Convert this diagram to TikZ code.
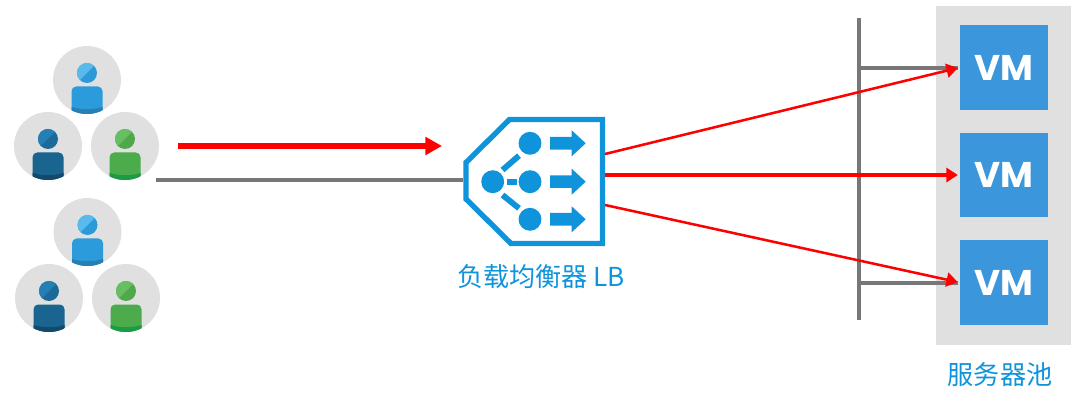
\documentclass[tikz,border=0pt]{standalone}
\usepackage{fontspec}
\usetikzlibrary{arrows.meta}
\newfontfamily\cjk{Noto Sans CJK SC}
\newfontfamily\vmfont{Poppins}
\definecolor{lbblue}{HTML}{0F94DC}
\definecolor{vmblue}{HTML}{3B96DB}
\definecolor{poolgray}{HTML}{E0E0E0}
\definecolor{linegray}{HTML}{777777}
\definecolor{bhl}{HTML}{5ABAEC}\definecolor{bhd}{HTML}{2A9AD9}\definecolor{bbo}{HTML}{2B9BDB}\definecolor{bba}{HTML}{2680B4}
\definecolor{dhl}{HTML}{2480B4}\definecolor{dhd}{HTML}{1B6A98}\definecolor{dbo}{HTML}{19658F}\definecolor{dba}{HTML}{134A6B}
\definecolor{ghl}{HTML}{68BF63}\definecolor{ghd}{HTML}{50A84D}\definecolor{gbo}{HTML}{4CAB4A}\definecolor{gba}{HTML}{1C9B47}
\tikzset{
  x=0.75pt,y=-0.75pt,
  graybar/.style={draw=linegray,line width=3pt},
  redthin/.style={draw=red,line width=1.9pt,-{Triangle[length=8.5pt,width=10.5pt]},shorten >=1.5pt},
  redmid/.style={redthin,line width=2.4pt},
  redthick/.style={draw=red,line width=3.8pt,-{Triangle[length=12.5pt,width=13pt]}},
  poolbox/.style={fill=poolgray,minimum width=101.2pt,minimum height=254.3pt,inner sep=0pt},
  vmbox/.style={fill=vmblue,minimum width=65.8pt,minimum height=63.6pt,inner sep=0pt,text=white,font=\fontsize{26.8}{27}\selectfont\bfseries\vmfont},
  labeltext/.style={text=lbblue,font=\fontsize{19.6}{21}\selectfont\cjk,inner sep=0pt},
  person/.style={fill=poolgray,circle,minimum size=51pt,inner sep=0pt},
  lbdot/.style={fill=lbblue,circle,minimum size=17.2pt,inner sep=0pt},
  lbdash/.style={draw=lbblue,line width=4.4pt},
  lbframe/.style={draw=lbblue,line width=4pt,miter limit=10},
  lbspace/.style={minimum width=106.5pt,minimum height=96.8pt,inner sep=0pt},
}
\newcommand{\usericon}[7]{%
 \node[person] (#1) at (#2,#3) {};
 \begin{scope}[shift={(#2,#3)}]
  \fill[#5] (0,-7) circle (10);
  \begin{scope}
   \clip (0,-7) circle (10);
   \fill[#4] (-11,4) -- (11,-18) -- (-11,-18) -- cycle;
  \end{scope}
  \begin{scope}
   \clip (0,0) circle (34);
   \fill[#6,rounded corners=3.5] (-15.5,40) -- (-15.5,6.5) -- (15.5,6.5) -- (15.5,40) -- cycle;
   \fill[#7] (-15.5,27) .. controls (-6,30) and (6,30) .. (15.5,27) -- (15.5,40) -- (-15.5,40) -- cycle;
  \end{scope}
 \end{scope}
}
\newcommand{\lbarrow}[1]{%
 \fill[lbblue] (550,#1-6.3) -- (571.7,#1-6.3) -- (571.7,#1-13) -- (585.7,#1) -- (571.7,#1+13) -- (571.7,#1+6.3) -- (550,#1+6.3) -- cycle;
}
\begin{document}
\begin{tikzpicture}
\useasboundingbox (0,0) rectangle (1080,402);
% users
\usericon{ua}{87}{80}{bhl}{bhd}{bbo}{bba}
\usericon{ub}{48}{146}{dhl}{dhd}{dbo}{dba}
\usericon{uc}{125}{146}{ghl}{ghd}{gbo}{gba}
\usericon{ud}{87.5}{232}{bhl}{bhd}{bbo}{bba}
\usericon{ue}{49}{298}{dhl}{dhd}{dbo}{dba}
\usericon{uf}{126}{298}{ghl}{ghd}{gbo}{gba}
% pool and VMs
\node[poolbox] (pool) at (1003.4,175.4) {};
\node[vmbox] (vma) at (1003.9,67.5) {VM};
\node[vmbox] (vmb) at (1003.9,175) {VM};
\node[vmbox] (vmc) at (1003.9,282.5) {VM};
\node[labeltext] (poollabel) at (1000,375) {服务器池};
% load balancer
\node[lbspace] (lb) at (534,181.5) {};
\draw[lbframe] (509.5,119.5) -- (602.5,119.5) -- (602.5,243.5) -- (511,243.5) -- (466,199) -- (466,162.5) -- cycle;
\node[lbdot] (da) at (530,143.3) {};
\node[lbdot] (db) at (530,181.7) {};
\node[lbdot] (dc) at (530,219.3) {};
\node[lbdot] (dl) at (492.7,181.7) {};
\draw[lbdash] (502.5,170) -- (519,155.7);
\draw[lbdash] (506.7,182) -- (517.3,182);
\draw[lbdash] (502.5,195) -- (519,208.3);
\lbarrow{143.3}
\lbarrow{181.7}
\lbarrow{219.3}
\node[labeltext] (lblabel) at (541,277) {负载均衡器 LB};
% gray network
\coordinate (lineStart) at (156,180);
\coordinate (busTop) at (858.7,18);
\coordinate (busBot) at (858.7,320);
\coordinate (tapA) at (858.7,68);
\coordinate (tapC) at (858.7,283);
\draw[graybar] (lineStart) -- (lineStart -| lb.west);
\draw[graybar] (busTop) -- (busBot);
\draw[graybar] (tapA) -- (958,68);
\draw[graybar] (tapC) -- (958,283);
% red traffic
\coordinate (redStart) at (178,146);
\coordinate (redEnd) at (442,146);
\coordinate (outA) at (605,154);
\coordinate (outB) at (605,175);
\coordinate (outC) at (605,205);
\draw[redthick] (redStart) -- (redEnd);
\draw[redthin] (outA) -- (vma.west);
\draw[redmid] (outB) -- (vmb.west);
\draw[redthin] (outC) -- (vmc.west);
\end{tikzpicture}
\end{document}
